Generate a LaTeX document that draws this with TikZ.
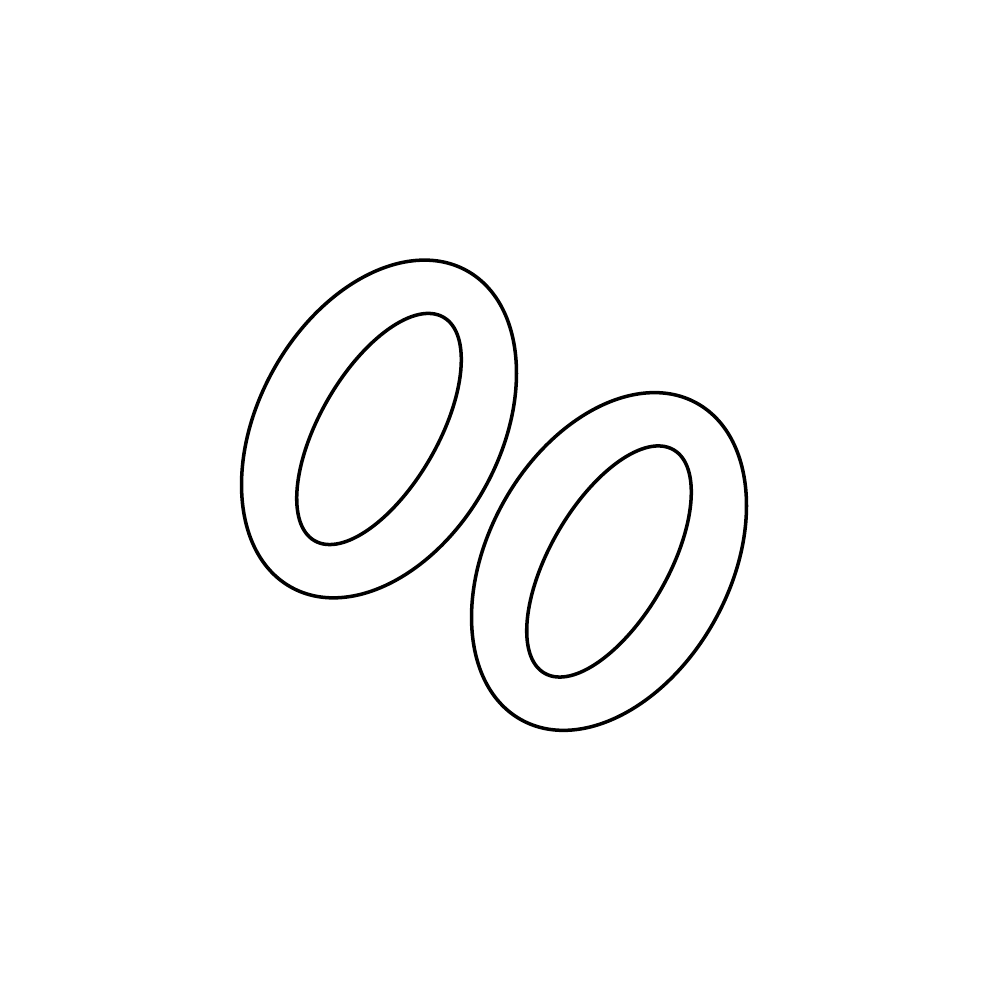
\documentclass[tikz,border=0pt]{standalone}
\usepackage{tikz}
\usetikzlibrary{positioning}

\begin{document}
\begin{tikzpicture} [ring/.style = {draw, line width = 1pt}]

\useasboundingbox (0,0) rectangle (10,10);

\coordinate (r1) at (3.79, 5.71);
\coordinate (r2) at (6.09, 4.385);

\path [ring]
    (r1) ellipse [x radius = 1.81, y radius = 1.21, rotate = 61];
\path [ring]
    (r1) ellipse [x radius = 1.29, y radius = 0.59, rotate = 60];
\path [ring]
    (r2) ellipse [x radius = 1.81, y radius = 1.21, rotate = 61];
\path [ring]
    (r2) ellipse [x radius = 1.29, y radius = 0.59, rotate = 60];
\end{tikzpicture}
\end{document}
